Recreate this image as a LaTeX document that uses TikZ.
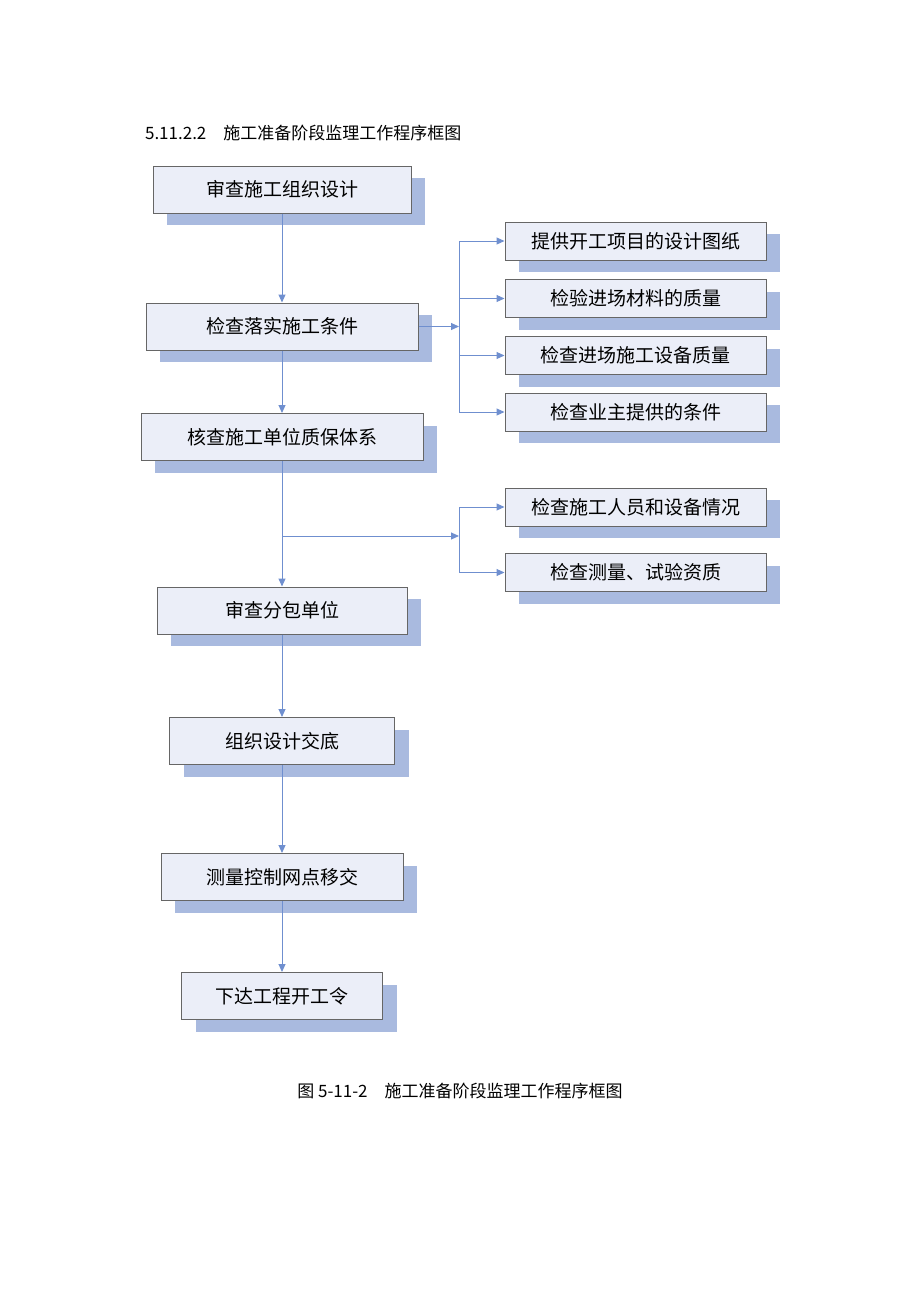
\documentclass[tikz,border=0pt]{standalone}
\usepackage{fontspec}
\newfontfamily\cjk{Noto Sans CJK SC}
\usetikzlibrary{arrows.meta,shadows,positioning}
\definecolor{boxfill}{HTML}{EBEEF8}
\definecolor{boxshadow}{HTML}{A9BADF}
\definecolor{linkblue}{HTML}{6F8FCF}
\tikzset{
  stage/.style={draw=gray!80!black, fill=boxfill, line width=0.5pt, minimum height=23.5pt,
    inner sep=0pt, font=\cjk\fontsize{9.5}{11}\selectfont,
    drop shadow={shadow xshift=7pt, shadow yshift=-6pt, fill=boxshadow, opacity=1}},
  side/.style={stage, minimum width=130.5pt, minimum height=19pt},
  link/.style={draw=linkblue, line width=0.5pt},
  flow/.style={link, -{Triangle[length=4pt,width=3.5pt]}, fill=linkblue}
}
\begin{document}
\begin{tikzpicture}[x=0.5pt, y=-0.5pt]
  \useasboundingbox (0,0) rectangle (920,1302);
  \node[anchor=west, font=\cjk\fontsize{8.5}{10}\selectfont] (title) at (138,133) {5.11.2.2\quad 施工准备阶段监理工作程序框图};
  % main steps
  \node[stage, minimum width=129pt] (s1) at (282,189.5) {审查施工组织设计};
  \node[stage, minimum width=136pt] (s2) at (282,326.5) {检查落实施工条件};
  \node[stage, minimum width=141pt] (s3) at (282,437) {核查施工单位质保体系};
  \node[stage, minimum width=125pt] (s4) at (282,610.5) {审查分包单位};
  \node[stage, minimum width=112.5pt] (s5) at (282,741) {组织设计交底};
  \node[stage, minimum width=121pt] (s6) at (282,877) {测量控制网点移交};
  \node[stage, minimum width=100.5pt] (s7) at (282,996) {下达工程开工令};
  % side checks
  \node[side] (c1) at (635.5,241) {提供开工项目的设计图纸};
  \node[side] (c2) at (635.5,298.5) {检验进场材料的质量};
  \node[side] (c3) at (635.5,355.5) {检查进场施工设备质量};
  \node[side] (c4) at (635.5,412) {检查业主提供的条件};
  \node[side] (d1) at (635.5,507) {检查施工人员和设备情况};
  \node[side] (d2) at (635.5,572.5) {检查测量、试验资质};
  % connectors
  \draw[flow] (s1) -- (s2);
  \draw[flow] (s2) -- (s3);
  \draw[flow] (s3) -- (s4);
  \draw[flow] (s4) -- (s5);
  \draw[flow] (s5) -- (s6);
  \draw[flow] (s6) -- (s7);
  \coordinate (b1) at (459,326.5);
  \draw[flow] (s2.east) -- (b1);
  \foreach \n in {c1,c2,c3,c4}
    \draw[flow] (b1 |- \n.west) -- (\n.west);
  \draw[link] (b1 |- c1.west) -- (b1 |- c4.west);
  \coordinate (b2) at (459,536);
  \draw[flow] (b2 -| s3.south) -- (b2);
  \foreach \n in {d1,d2}
    \draw[flow] (b2 |- \n.west) -- (\n.west);
  \draw[link] (b2 |- d1.west) -- (b2 |- d2.west);
  \node[font=\cjk\fontsize{8.5}{10}\selectfont] (caption) at (460,1091) {图 5-11-2\quad 施工准备阶段监理工作程序框图};
\end{tikzpicture}
\end{document}
